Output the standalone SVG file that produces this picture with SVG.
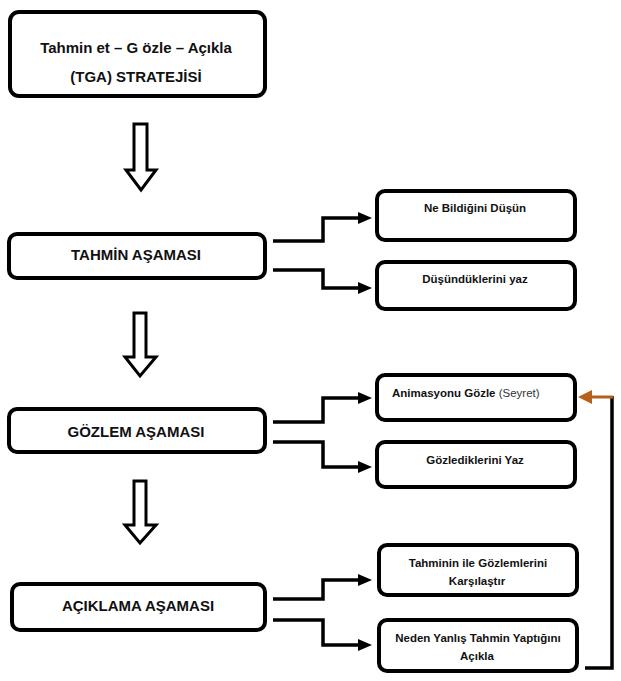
<svg xmlns="http://www.w3.org/2000/svg" width="621" height="681" viewBox="0 0 621 681">
  <style>
    .box { fill: #ffffff; stroke: #000000; stroke-width: 4; }
    .big { font-family: "Liberation Sans", Arial, sans-serif; font-weight: bold; font-size: 15px; fill: #111111; text-anchor: middle; }
    .small { font-family: "Liberation Sans", Arial, sans-serif; font-weight: bold; font-size: 11.5px; fill: #111111; text-anchor: middle; }
    .plain { font-weight: normal; fill: #333333; }
    .conn { fill: none; stroke: #000000; stroke-width: 3.5; stroke-linejoin: miter; }
    .block { fill: #ffffff; stroke: #000000; stroke-width: 3; stroke-linejoin: miter; }
    .back { fill: none; stroke: #b5601c; stroke-width: 3; }
  </style>
  <defs>
    <marker id="head" markerUnits="userSpaceOnUse" markerWidth="14" markerHeight="12" viewBox="0 0 14 12" refX="0" refY="6" orient="auto">
      <path d="M0,0 L14,6 L0,12 z" fill="#000000"/>
    </marker>
    <marker id="headBrown" markerUnits="userSpaceOnUse" markerWidth="14" markerHeight="14" viewBox="0 0 14 14" refX="0" refY="7" orient="auto">
      <path d="M0,0 L14,7 L0,14 z" fill="#b5601c"/>
    </marker>
  </defs>

  <!-- title -->
  <g id="title">
    <rect class="box" x="10" y="12" width="255" height="84" rx="9"/>
    <text class="big" x="136" y="53">Tahmin et – G özle – Açıkla</text>
    <text class="big" x="136" y="82">(TGA) STRATEJİSİ</text>
  </g>

  <!-- phases -->
  <g id="tahmin">
    <rect class="box" x="9" y="234" width="256" height="44" rx="8"/>
    <text class="big" x="136" y="260">TAHMİN AŞAMASI</text>
  </g>
  <g id="gozlem">
    <rect class="box" x="9" y="409" width="256" height="43" rx="8"/>
    <text class="big" x="136" y="437">GÖZLEM AŞAMASI</text>
  </g>
  <g id="aciklama">
    <rect class="box" x="12" y="584" width="253" height="46" rx="8"/>
    <text class="big" x="138" y="611">AÇIKLAMA AŞAMASI</text>
  </g>

  <!-- steps -->
  <g id="ne-bildigini">
    <rect class="box" x="377" y="191" width="198" height="49" rx="8"/>
    <text class="small" x="475" y="212">Ne Bildiğini Düşün</text>
  </g>
  <g id="dusunduklerini">
    <rect class="box" x="377" y="262" width="198" height="47" rx="8"/>
    <text class="small" x="475" y="283">Düşündüklerini yaz</text>
  </g>
  <g id="animasyonu">
    <rect class="box" x="377" y="375" width="198" height="45" rx="8"/>
    <text class="small" x="392" y="397" text-anchor="start" style="text-anchor:start">Animasyonu Gözle <tspan class="plain">(Seyret)</tspan></text>
  </g>
  <g id="gozlediklerini">
    <rect class="box" x="377" y="442" width="198" height="45" rx="8"/>
    <text class="small" x="475" y="464">Gözlediklerini Yaz</text>
  </g>
  <g id="karsilastir">
    <rect class="box" x="379" y="545" width="198" height="50" rx="8"/>
    <text class="small" x="478" y="567">Tahminin ile Gözlemlerini</text>
    <text class="small" x="477" y="585">Karşılaştır</text>
  </g>
  <g id="neden">
    <rect class="box" x="379" y="620" width="198" height="51" rx="8"/>
    <text class="small" x="478" y="642">Neden Yanlış Tahmin Yaptığını</text>
    <text class="small" x="477" y="660">Açıkla</text>
  </g>

  <!-- connectors -->
  <g id="connectors">
    <!-- hollow block arrows between phases -->
    <polygon class="block" points="134,124 147,124 147,170 156,170 141,190 126,170 134,170"/>
    <polygon class="block" points="134,313 146,313 146,357 156,357 140,376 125,357 134,357"/>
    <polygon class="block" points="134,481 146,481 146,525 156,525 140,543 125,525 134,525"/>

    <!-- phase to step branches -->
    <path class="conn" d="M273,241 H323 V218 H358" marker-end="url(#head)"/>
    <path class="conn" d="M273,270 H323 V288 H358" marker-end="url(#head)"/>
    <path class="conn" d="M273,422 H323 V398 H358" marker-end="url(#head)"/>
    <path class="conn" d="M273,442 H323 V467 H358" marker-end="url(#head)"/>
    <path class="conn" d="M273,599 H323 V580 H358" marker-end="url(#head)"/>
    <path class="conn" d="M273,620 H323 V645 H358" marker-end="url(#head)"/>

    <!-- loop back to observation -->
    <path class="conn" d="M585,668 H612 V396"/>
    <path class="back" d="M613,397 H592" marker-end="url(#headBrown)"/>
  </g>
</svg>
